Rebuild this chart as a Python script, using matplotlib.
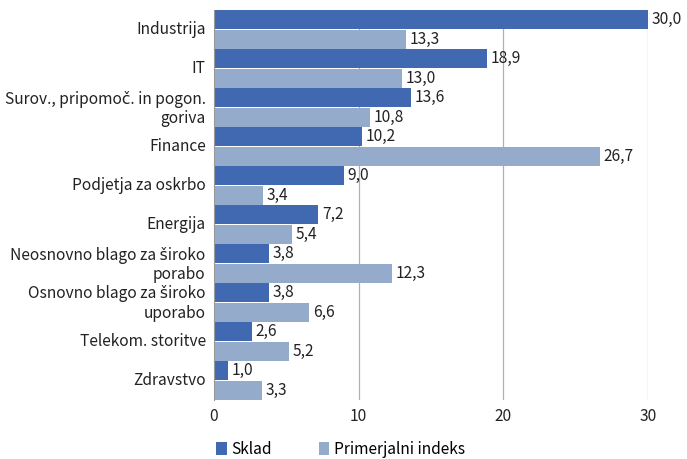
import numpy as np
import matplotlib.pyplot as plt
import matplotlib.transforms as mtransforms

categories = ["Industrija", "IT", "Surov., pripomoč. in pogon.\ngoriva", "Finance",
              "Podjetja za oskrbo", "Energija", "Neosnovno blago za široko\nporabo",
              "Osnovno blago za široko\nuporabo", "Telekom. storitve", "Zdravstvo"]
sklad = [30.0, 18.9, 13.6, 10.2, 9.0, 7.2, 3.8, 3.8, 2.6, 1.0]
indeks = [13.3, 13.0, 10.8, 26.7, 3.4, 5.4, 12.3, 6.6, 5.2, 3.3]
series_names = ["Sklad", "Primerjalni indeks"]

plt.rcParams['font.family'] = ['Noto Sans CJK KR', 'DejaVu Sans']
dark = "#4169b2"
light = "#95abcb"
fs = 11.2

fig = plt.figure(figsize=(6.87, 4.59), dpi=100)
ax = fig.add_axes([214/687, 1 - 400/459, (648 - 214)/687, 390/459])

y = np.arange(len(categories))
h = 0.485
ax.barh(y - 0.25, sklad, height=h, color=dark, label=series_names[0])
ax.barh(y + 0.25, indeks, height=h, color=light, label=series_names[1])

# value labels, decimal comma
for yi, v in zip(y, sklad):
    ax.text(v + 0.25, yi - 0.25, f"{v:.1f}".replace(".", ","), va="center", ha="left",
            fontsize=fs, color="#222222", clip_on=False)
for yi, v in zip(y, indeks):
    ax.text(v + 0.25, yi + 0.25, f"{v:.1f}".replace(".", ","), va="center", ha="left",
            fontsize=fs, color="#222222", clip_on=False)

ax.set_ylim(len(categories) - 0.5, -0.5)
ax.set_xlim(0, 30)
ax.set_xticks([0, 10, 20, 30])
ax.set_yticks(y)
ax.set_yticklabels(categories, fontsize=fs, color="#222222")
ax.tick_params(axis="both", length=0, labelsize=fs, colors="#222222")
ax.tick_params(axis="x", pad=6)
ax.tick_params(axis="y", pad=6)
# nudge category labels up a little
shift = mtransforms.ScaledTranslation(0, 2/100, fig.dpi_scale_trans)
for lab in ax.get_yticklabels():
    lab.set_transform(lab.get_transform() + shift)
ax.xaxis.grid(True, color="#b0b0b0", linewidth=0.9)
ax.set_axisbelow(True)
for s in ["top", "right", "bottom"]:
    ax.spines[s].set_visible(False)
ax.spines["left"].set_color("#999999")

ax.legend(loc="upper left", bbox_to_anchor=(-0.01, -0.088), ncol=2, frameon=False,
          fontsize=fs, handlelength=0.7, handleheight=0.9, handletextpad=0.3,
          columnspacing=3.0, borderaxespad=0)

fig.savefig("out.png", dpi=100)
